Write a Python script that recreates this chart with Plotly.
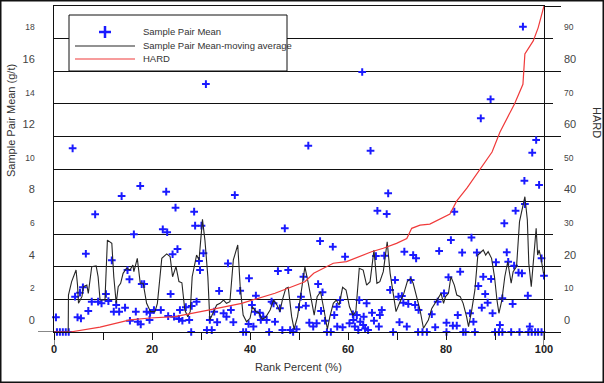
import plotly.graph_objects as go

# ---------------- data ----------------
# Sample Pair Mean points (x = rank percent, y = g/t)
pm_x = [0.4, 0.6, 1.2, 1.8, 2.4, 3.0, 3.8, 4.3, 4.8, 5.3,
        5.5, 5.9, 6.5, 7.0, 7.7, 8.4, 9.0, 9.7, 10.6, 11.1,
        11.8, 12.2, 12.7, 13.3, 13.8, 14.5, 15.0, 15.4, 15.5, 16.3,
        16.7, 17.1, 17.6, 17.7, 17.9, 18.4, 18.9, 19.5, 19.6, 20.4,
        21.8, 22.2, 22.9, 23.1, 23.3, 23.8, 24.2, 24.5, 24.8, 25.2,
        25.5, 25.7, 26.2, 26.9, 27.6, 28.0, 28.1, 28.6, 28.8, 29.1,
        29.6, 29.8, 30.1, 30.5, 31.0, 31.2, 31.8, 32.2, 32.7, 33.3,
        33.7, 34.6, 35.2, 35.5, 36.1, 36.6, 36.9, 38.0, 38.6, 39.2,
        39.7, 39.8, 40.4, 40.7, 41.0, 41.2, 42.0, 42.2, 42.7, 43.4,
        43.9, 44.4, 44.8, 45.1, 45.7, 46.1, 46.6, 47.1, 47.8, 48.2,
        48.8, 49.5, 50.0, 50.4, 50.9, 51.4, 51.9, 52.1, 52.9, 53.6,
        53.9, 54.3, 54.5, 54.8, 55.3, 55.7, 56.5, 56.9, 57.2, 57.7,
        57.8, 58.4, 58.9, 59.4, 60.3, 61.0, 61.1, 61.4, 61.8, 62.1,
        62.3, 62.5, 62.9, 63.1, 63.2, 63.5, 63.8, 64.1, 64.6, 64.9,
        65.3, 65.7, 66.0, 66.3, 66.5, 66.9, 67.4, 67.9, 68.2, 68.6,
        69.2, 69.6, 70.3, 70.5, 71.0, 71.3, 71.5, 72.0, 72.3, 72.8,
        73.3, 73.7, 73.9, 74.3, 74.4, 75.2, 76.1, 77.1, 77.8, 78.3,
        78.6, 79.6, 80.1, 80.1, 80.5, 81.0, 81.4, 81.7, 82.2, 82.4,
        82.9, 83.3, 83.5, 84.0, 84.9, 85.2, 85.6, 85.9, 86.3, 86.6,
        87.1, 87.3, 87.6, 88.0, 88.5, 89.1, 89.2, 89.5, 90.0, 90.2,
        90.8, 91.0, 91.5, 91.5, 91.9, 92.4, 92.7, 93.3, 93.6, 93.9,
        94.2, 94.8, 95.0, 95.5, 95.7, 96.0, 96.1, 96.7, 96.8, 97.1,
        97.5, 97.6, 98.2, 98.4, 98.8, 99.0, 99.5, 99.5, 100.0]
pm_y = [0.90, 0.00, 0.00, 0.00, 0.00, 0.00, 11.27, 2.17, 0.90, 2.41,
        0.84, 2.74, 4.80, 1.29, 1.86, 7.22, 1.86, 1.76, 2.33, 1.90,
        4.40, 1.25, 1.66, 1.25, 8.34, 1.49, 3.80, 3.23, 0.69, 5.99,
        1.25, 0.63, 8.96, 0.47, 2.94, 2.94, 1.25, 0.74, 1.18, 1.35,
        1.35, 6.30, 8.61, 6.12, 0.98, 2.33, 4.77, 0.94, 7.63, 5.09,
        0.80, 1.35, 0.69, 1.52, 0.74, 0.00, 1.60, 7.38, 6.52, 1.86,
        4.36, 3.80, 6.52, 4.83, 15.21, 0.12, 0.74, 0.12, 1.25, 0.60,
        2.52, 1.15, 0.94, 4.21, 1.35, 0.60, 8.40, 2.53, 0.00, 0.00,
        0.49, 3.29, 1.66, 0.33, 1.25, 2.23, 1.18, 0.74, 0.94, 0.74,
        0.00, 1.86, 1.76, 0.63, 3.74, 1.45, 0.12, 6.36, 3.80, 0.12,
        0.00, 0.17, 1.52, 2.17, 3.39, 1.61, 11.43, 0.57, 0.33, 0.53,
        2.94, 5.58, 1.29, 2.44, 0.69, 0.00, 0.00, 5.23, 1.04, 1.55,
        0.33, 1.96, 0.29, 4.62, 0.53, 1.09, 0.74, 0.33, 1.04, 0.12,
        1.96, 0.63, 15.95, 0.43, 0.94, 0.22, 1.76, 0.12, 11.12, 1.18,
        0.69, 4.66, 7.44, 0.33, 1.04, 1.35, 4.68, 7.24, 8.51, 2.58,
        0.00, 3.19, 2.17, 0.60, 2.21, 1.80, 4.93, 0.33, 1.72, 3.19,
        4.72, 1.66, 4.52, 0.00, 1.35, 0.00, 0.00, 1.09, 0.29, 1.86,
        4.97, 2.37, 0.00, 0.57, 3.36, 5.64, 0.39, 7.38, 0.39, 1.04,
        3.70, 4.87, 0.00, 0.00, 1.15, 5.79, 0.63, 0.00, 4.87, 2.82,
        13.11, 1.49, 3.39, 2.33, 1.80, 14.28, 3.25, 1.15, 0.00, 4.28,
        0.00, 0.43, 2.07, 0.00, 6.67, 4.89, 4.31, 0.00, 1.72, 4.07,
        7.44, 3.64, 0.00, 3.60, 18.73, 9.28, 7.85, 2.23, 0.00, 0.33,
        0.00, 11.00, 0.00, 11.78, 0.00, 9.02, 0.00, 4.52, 3.45]

# Sample Pair Mean - moving average (vertices)
ma_x = [0.0, 2.9, 2.95, 3.6, 4.5, 4.8, 5.0, 5.7, 6.0, 6.7,
        7.0, 7.7, 8.6, 9.0, 9.4, 10.4, 10.9, 11.8, 12.2, 12.7,
        13.1, 13.6, 14.1, 14.8, 15.5, 16.1, 16.3, 17.0, 17.6, 18.2,
        18.9, 19.7, 20.6, 21.1, 22.0, 23.0, 23.7, 24.2, 24.9, 25.5,
        26.1, 26.7, 27.3, 27.8, 28.2, 29.1, 29.6, 30.3, 30.8, 31.4,
        31.8, 32.5, 33.2, 33.9, 34.6, 35.2, 35.9, 36.6, 37.5, 38.0,
        38.6, 39.3, 40.0, 40.5, 41.2, 41.8, 42.5, 43.2, 44.1, 44.8,
        45.5, 46.1, 46.6, 47.3, 47.8, 48.5, 49.0, 49.7, 50.4, 51.2,
        51.9, 52.6, 53.1, 53.7, 54.4, 55.1, 55.8, 56.3, 57.0, 57.6,
        58.2, 58.9, 59.6, 60.3, 61.0, 61.6, 62.3, 63.1, 63.8, 64.5,
        65.3, 65.9, 66.5, 67.2, 68.0, 68.6, 69.2, 69.8, 70.5, 71.4,
        72.1, 72.8, 73.3, 74.0, 74.7, 75.4, 76.4, 77.1, 77.8, 78.4,
        79.0, 79.5, 79.9, 80.5, 81.0, 81.7, 82.2, 82.9, 83.5, 84.2,
        84.6, 85.2, 85.9, 86.5, 86.9, 87.6, 88.1, 88.6, 89.3, 89.9,
        90.4, 90.8, 91.4, 92.0, 92.6, 93.3, 93.7, 94.4, 95.0, 95.7,
        96.1, 96.6, 96.9, 97.4, 97.8, 98.4, 98.7, 99.0, 99.4, 99.9]
ma_y = [0.00, 0.00, 2.27, 3.09, 3.80, 2.88, 1.76, 2.17, 2.78, 2.88,
        2.37, 4.01, 4.05, 3.39, 1.96, 1.96, 5.64, 5.44, 3.39, 1.76,
        2.78, 2.99, 3.60, 3.91, 3.80, 4.11, 3.70, 4.52, 2.99, 2.99,
        1.76, 1.25, 1.25, 1.76, 4.52, 4.79, 4.62, 3.39, 4.01, 3.09,
        3.02, 1.35, 0.94, 1.25, 3.39, 4.72, 4.42, 6.91, 5.64, 3.39,
        0.74, 1.25, 1.66, 1.76, 1.96, 1.76, 1.86, 4.42, 5.34, 2.78,
        1.04, 0.63, 0.84, 1.55, 1.25, 1.18, 0.78, 0.90, 1.35, 1.96,
        1.66, 1.25, 1.96, 2.68, 2.74, 0.94, 0.17, 0.94, 2.27, 3.99,
        2.99, 1.76, 1.04, 2.17, 2.47, 1.35, 0.17, 0.94, 1.76, 1.96,
        1.66, 2.74, 2.58, 1.55, 1.04, 1.25, 3.91, 3.80, 2.88, 3.09,
        5.03, 2.99, 3.09, 3.70, 5.54, 3.60, 2.27, 1.25, 1.76, 2.37,
        3.09, 3.29, 2.99, 2.17, 1.35, 0.23, 0.74, 1.45, 1.76, 2.07,
        2.37, 1.76, 2.17, 2.37, 3.39, 2.88, 2.27, 2.17, 1.76, 0.94,
        0.33, 1.25, 2.58, 4.72, 4.83, 5.03, 4.72, 4.93, 4.52, 3.39,
        1.96, 1.15, 1.96, 3.39, 4.31, 2.99, 3.70, 4.01, 6.77, 7.90,
        8.30, 6.87, 4.21, 2.78, 4.21, 6.36, 4.72, 5.03, 4.52, 3.60]

# HARD (right axis)
hard_x = [0, 3.3, 9.4, 15.5, 19.6, 24.7, 31.5, 38.3, 45.1, 48.5,
          51.2, 53.0, 57.0, 59.7, 62.1, 64.8, 67.2, 69.9, 72.0, 73.0,
          74.7, 76.7, 80.8, 82.2, 84.3, 86.5, 89.4, 91.0, 94.0, 95.7,
          96.1, 97.8, 98.8, 100]
hard_y = [0, 0, 1.5, 3.7, 4.3, 4.7, 6.7, 8.8, 11.9, 13.9,
          15.4, 18.0, 21.1, 21.6, 23.1, 24.6, 25.7, 27.2, 28.7, 31.8,
          32.8, 33.1, 36.2, 40.2, 44.2, 49.1, 55.2, 61.3, 70.0, 76.0,
          85.3, 89.3, 93.3, 100]

left_ticks = [0, 2, 4, 6, 8, 10, 12, 14, 16, 18]
right_ticks = [0, 10, 20, 30, 40, 50, 60, 70, 80, 90]
x_ticks = [0, 10, 20, 30, 40, 50, 60, 70, 80, 90, 100]

# ---------------- figure ----------------
FONT = "Arial, Liberation Sans, sans-serif"
W, H = 604, 383
ML, MR, MT, MB = 54, 60, 6, 51
PW, PH = W - ML - MR, H - MT - MB


def px(xp):
    return (xp - ML) / PW


def py(yp):
    return (H - MB - yp) / PH


def alt(v, i):
    size = 11 if i % 2 == 0 else 8.5
    return f'<span style="font-size:{size}px">{v}</span>'


BLUE = "#1a1aff"
fig = go.Figure()
fig.add_trace(go.Scatter(x=pm_x, y=pm_y, mode="markers", name="Sample Pair Mean",
                         marker=dict(symbol="cross-thin", size=5.5,
                                     line=dict(color=BLUE, width=2)),
                         cliponaxis=False, showlegend=False))
fig.add_trace(go.Scatter(x=ma_x, y=ma_y, mode="lines",
                         name="Sample Pair Mean-moving average",
                         line=dict(color="#262626", width=1.1), showlegend=False))
fig.add_trace(go.Scatter(x=hard_x, y=hard_y, mode="lines", name="HARD", yaxis="y2",
                         line=dict(color="#f03a3a", width=1.2), showlegend=False))
fig.add_trace(go.Scatter(x=[None], y=[None], yaxis="y3", showlegend=False,
                         hoverinfo="skip"))

fig.update_layout(
    width=W, height=H, autosize=False,
    margin=dict(l=ML, r=MR, t=MT, b=MB),
    paper_bgcolor="white", plot_bgcolor="white",
    font=dict(family=FONT, size=11, color="#333"),
    showlegend=False,
    xaxis=dict(range=[0, 100], showline=True, linecolor="#111", linewidth=1,
               mirror=True, ticks="outside", ticklen=7, tickcolor="#111",
               tickvals=x_ticks,
               ticktext=[f"<b>{v}</b>" if v % 20 == 0 else "" for v in x_ticks],
               tickfont=dict(size=11, color="#222"),
               showgrid=False, zeroline=False),
    yaxis=dict(range=[0, 20], showline=True, linecolor="#111", linewidth=1,
               ticks="", tickvals=left_ticks,
               ticktext=[alt(v, i) for i, v in enumerate(left_ticks)],
               tickfont=dict(size=11, color="#444"),
               ticklabelshift=-12, ticklabelstandoff=16,
               showgrid=False, zeroline=False),
    yaxis2=dict(range=[0, 100], overlaying="y", side="right", anchor="x",
                showline=True, linecolor="#111", linewidth=1,
                tickvals=[0, 20, 40, 60, 80, 100], ticks="outside", ticklen=16,
                tickcolor="#111", showticklabels=False,
                showgrid=True, gridcolor="#111", gridwidth=1, zeroline=False,
                minor=dict(tickvals=[10, 30, 50, 70, 90], ticks="outside",
                           ticklen=8, tickcolor="#111", showgrid=True,
                           gridcolor="#111", gridwidth=1)),
    yaxis3=dict(range=[0, 100], overlaying="y", side="right", anchor="x",
                showline=False, ticks="", tickvals=right_ticks,
                ticktext=[alt(v, i) for i, v in enumerate(right_ticks)],
                tickfont=dict(size=11, color="#444"),
                ticklabelshift=-12, ticklabelstandoff=19,
                showgrid=False, zeroline=False),
)

shapes = []
# left tick at 0 and long x ticks at 0 / 100
shapes.append(dict(type="line", xref="paper", yref="y", x0=-16 / PW, x1=0, y0=0, y1=0,
                   line=dict(color="#111", width=1)))
for xv in (0, 100):
    shapes.append(dict(type="line", xref="x", yref="paper", x0=xv, x1=xv,
                       y0=0, y1=-13 / PH, line=dict(color="#111", width=1)))
# legend box
shapes.append(dict(type="rect", xref="paper", yref="paper",
                   x0=px(69), x1=px(287), y0=py(71), y1=py(15),
                   fillcolor="white", line=dict(color="#111", width=1)))
# legend symbols
shapes.append(dict(type="line", xref="paper", yref="paper", x0=px(99), x1=px(111),
                   y0=py(32), y1=py(32), line=dict(color=BLUE, width=2.5)))
shapes.append(dict(type="line", xref="paper", yref="paper", x0=px(105), x1=px(105),
                   y0=py(26), y1=py(38), line=dict(color=BLUE, width=2.5)))
shapes.append(dict(type="line", xref="paper", yref="paper", x0=px(75), x1=px(135),
                   y0=py(46), y1=py(46), line=dict(color="#262626", width=1.1)))
shapes.append(dict(type="line", xref="paper", yref="paper", x0=px(75), x1=px(135),
                   y0=py(59), y1=py(59), line=dict(color="#f03a3a", width=1.2)))
# outer frame
shapes.append(dict(type="rect", xref="paper", yref="paper",
                   x0=px(0.5), x1=px(603.5), y0=py(382.5), y1=py(0.5),
                   line=dict(color="#111", width=2)))
fig.update_layout(shapes=shapes)

ann = []
for txt, yy in (("Sample Pair Mean", 32), ("Sample Pair Mean-moving average", 45.5),
                ("HARD", 59)):
    ann.append(dict(text=txt, xref="paper", yref="paper", x=px(141), y=py(yy),
                    xanchor="left", yanchor="middle", showarrow=False,
                    font=dict(size=9.5, color="#333", family=FONT)))
ann.append(dict(text="Sample Pair Mean (g/t)", xref="paper", yref="paper",
                x=px(11), y=py(121), textangle=-90, showarrow=False,
                xanchor="center", yanchor="middle",
                font=dict(size=11, color="#333", family=FONT)))
ann.append(dict(text="Rank Percent (%)", xref="paper", yref="paper",
                x=px(298), y=py(367), showarrow=False,
                xanchor="center", yanchor="middle",
                font=dict(size=11, color="#333", family=FONT)))
ann.append(dict(text="HARD", xref="paper", yref="paper",
                x=px(597), y=py(122), textangle=90, showarrow=False,
                xanchor="center", yanchor="middle",
                font=dict(size=11, color="#333", family=FONT)))
fig.update_layout(annotations=ann)

fig.write_html(
    "out.html",
    config={"displayModeBar": False},
    post_script="document.body.style.margin='0';document.body.style.overflow='hidden';",
)
